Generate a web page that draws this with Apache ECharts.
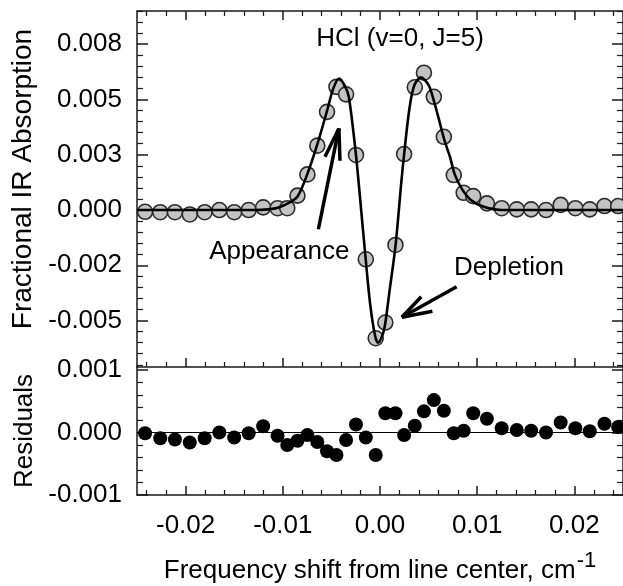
<!DOCTYPE html>
<html>
<head>
<meta charset="utf-8">
<script src="https://cdn.jsdelivr.net/npm/echarts@6/dist/echarts.min.js"></script>
<style>html,body{margin:0;padding:0;background:#fff;}#c{width:623px;height:586px;}</style>
</head>
<body>
<div id="c"></div>
<script>
// ---- data ----
const freq = [-0.02417, -0.02261, -0.02110, -0.01957, -0.01804, -0.01653, -0.01500, -0.01351, -0.01202, -0.01054,
  -0.00954, -0.00849, -0.00747, -0.00645, -0.00545, -0.00448, -0.00349, -0.00247, -0.00146, -0.00044,
  0.00055, 0.00159, 0.00248, 0.00358, 0.00452, 0.00554, 0.00657, 0.00759, 0.00861, 0.00959,
  0.01100, 0.01252, 0.01407, 0.01555, 0.01708, 0.01859, 0.02010, 0.02158, 0.02309, 0.02450];
const absorption = [-0.00008, -0.0001, -0.0001, -0.0002, -0.0001, 0.0, -0.0001, 0.0, 0.00012, 0.00008,
  0.00008, 0.00065, 0.00161, 0.00291, 0.00444, 0.00557, 0.00523, 0.00249, -0.00223, -0.0058,
  -0.00509, -0.00158, 0.00253, 0.00555, 0.00621, 0.00512, 0.00331, 0.00158, 0.00078, 0.00063,
  0.0003, 0.00008, 0.00003, 0.00003, 0.0, 0.00023, 0.00008, 0.00003, 0.00018, 0.00018];
const residuals = [-0.00001, -0.00009, -0.00011, -0.00016, -0.00009, 0.0, -0.00008, -0.00001, 0.0001, -0.00005,
  -0.0002, -0.00013, -0.00004, -0.00015, -0.0003, -0.00036, -0.00012, 0.00013, -0.00008, -0.00036,
  0.00031, 0.00031, -0.00004, 0.00011, 0.00034, 0.00052, 0.00035, -0.00001, 0.00003, 0.00031,
  0.00022, 0.00007, 0.00004, 0.00003, 0.0, 0.00016, 0.00007, 0.00002, 0.00014, 0.00009];
const fitFreq = [-0.025, -0.013, -0.0115, -0.0105, -0.0095, -0.0085, -0.0075, -0.0065, -0.0055, -0.0048,
  -0.0042, -0.0036, -0.0032, -0.0025, -0.002, -0.0015, -0.001, -0.0005, -0.0002, 0.0003,
  0.00055, 0.001, 0.0016, 0.0022, 0.0025, 0.003, 0.0035, 0.0042, 0.005, 0.0055,
  0.006, 0.0066, 0.0072, 0.0077, 0.0085, 0.0095, 0.011, 0.0125, 0.025];
const fitAbs = [0, 0, 0.00003, 0.0001, 0.0003, 0.0006, 0.0016, 0.0029, 0.0044, 0.0055,
  0.00595, 0.0056, 0.0051, 0.0026, 0.0003, -0.0021, -0.0043, -0.0057, -0.006, -0.0056,
  -0.0051, -0.0036, -0.0016, 0.0013, 0.0026, 0.0045, 0.0056, 0.006, 0.00565, 0.005,
  0.0042, 0.0032, 0.0024, 0.0016, 0.0009, 0.0004, 0.0001, 0, 0];

const xTickValues = [-0.02, -0.01, 0, 0.01, 0.02];
const xTickLabels = ['-0.02', '-0.01', '0.00', '0.01', '0.02'];
const upperTickValues = [-0.005, -0.0025, 0, 0.0025, 0.005, 0.0075];
const upperTickLabels = ['-0.005', '-0.002', '0.000', '0.003', '0.005', '0.008'];
const lowerTickValues = [-0.001, 0, 0.001];
const lowerTickLabels = ['-0.001', '0.000', '0.001'];

const titleText = 'HCl (v=0, J=5)';
const upperName = 'Fractional IR Absorption';
const lowerName = 'Residuals';
const xName = 'Frequency shift from line center, cm';
const xNameSup = '-1';

// ---- helpers ----
const FONT = 'Liberation Sans, Arial, Helvetica, sans-serif';
const AX = '#1a1a1a';
function minorValues(lo, hi, step, majors) {
  const out = [];
  const n = Math.round((hi - lo) / step);
  for (let i = 0; i <= n; i++) {
    const v = +(lo + i * step).toFixed(6);
    if (!majors.some(m => Math.abs(m - v) < 1e-9)) out.push(v);
  }
  return out;
}
function lookup(vals, labels) {
  return function (v) {
    for (let i = 0; i < vals.length; i++) if (Math.abs(vals[i] - v) < 1e-9) return labels[i];
    return '';
  };
}
function axis(base, o) {
  return Object.assign({
    type: 'value', splitLine: { show: false },
    axisLine: { show: false, onZero: false, lineStyle: { color: AX, width: 1.5 } },
    axisLabel: { show: false },
    axisTick: { show: true, inside: true, length: 9, lineStyle: { color: AX, width: 1.5 } }
  }, base, o);
}
const X_RANGE = { min: -0.025, max: 0.025 };
const UY_RANGE = { min: -0.0071, max: 0.009 };
const LY_RANGE = { min: -0.001, max: 0.00105 };
const xMinor = minorValues(-0.024, 0.024, 0.002, xTickValues);
const uyMinor = minorValues(-0.007, 0.009, 0.0005, upperTickValues);
const lyMinor = minorValues(-0.001, 0.001, 0.0002, lowerTickValues);

function majorTick(vals, len) { return { show: true, inside: true, length: len, customValues: vals, lineStyle: { color: AX, width: 1.5 } }; }
function minorTick(vals, len) { return { show: true, inside: true, length: len, customValues: vals, lineStyle: { color: AX, width: 1.2 } }; }

const xAxes = [
  // upper grid
  axis(X_RANGE, { gridIndex: 0, position: 'bottom', axisLine: { show: true, onZero: false, lineStyle: { color: AX, width: 1.5 } }, axisTick: majorTick(xTickValues, 9) }),
  axis(X_RANGE, { gridIndex: 0, position: 'bottom', axisTick: minorTick(xMinor, 5) }),
  axis(X_RANGE, { gridIndex: 0, position: 'top', axisLine: { show: true, onZero: false, lineStyle: { color: AX, width: 1.5 } }, axisTick: majorTick(xTickValues, 9) }),
  axis(X_RANGE, { gridIndex: 0, position: 'top', axisTick: minorTick(xMinor, 5) }),
  // lower grid
  axis(X_RANGE, { gridIndex: 1, position: 'bottom',
    axisLine: { show: true, onZero: false, lineStyle: { color: AX, width: 1.5 } },
    axisTick: majorTick(xTickValues, 9),
    axisLabel: { show: true, customValues: xTickValues, formatter: lookup(xTickValues, xTickLabels), margin: 18, fontSize: 26, fontFamily: FONT, color: '#000' },
    name: '{m|' + xName + '}{s|' + xNameSup + '}', nameLocation: 'middle', nameGap: 55,
    nameTextStyle: { fontFamily: FONT, color: '#000', rich: {
      m: { fontSize: 26, fontFamily: FONT, color: '#000' },
      s: { fontSize: 22, fontFamily: FONT, color: '#000', padding: [0, 0, 20, 1] } } } }),
  axis(X_RANGE, { gridIndex: 1, position: 'bottom', axisTick: minorTick(xMinor, 5) })
];
const yAxes = [
  // upper grid
  axis(UY_RANGE, { gridIndex: 0, position: 'left',
    axisLine: { show: true, onZero: false, lineStyle: { color: AX, width: 1.5 } },
    axisTick: majorTick(upperTickValues, 11),
    axisLabel: { show: true, customValues: upperTickValues, formatter: lookup(upperTickValues, upperTickLabels), margin: 15, fontSize: 26, fontFamily: FONT, color: '#000' },
    name: upperName, nameLocation: 'middle', nameGap: 96, nameRotate: 90,
    nameTextStyle: { fontSize: 28, fontFamily: FONT, color: '#000', padding: [0, 0, 0, 20] } }),
  axis(UY_RANGE, { gridIndex: 0, position: 'left', axisTick: minorTick(uyMinor, 6) }),
  axis(UY_RANGE, { gridIndex: 0, position: 'right', axisLine: { show: true, onZero: false, lineStyle: { color: AX, width: 1.5 } }, axisTick: majorTick(upperTickValues, 11) }),
  axis(UY_RANGE, { gridIndex: 0, position: 'right', axisTick: minorTick(uyMinor, 6) }),
  // lower grid
  axis(LY_RANGE, { gridIndex: 1, position: 'left',
    axisLine: { show: true, onZero: false, lineStyle: { color: AX, width: 1.5 } },
    axisTick: majorTick(lowerTickValues, 11),
    axisLabel: { show: true, customValues: lowerTickValues, formatter: lookup(lowerTickValues, lowerTickLabels), margin: 15, fontSize: 26, fontFamily: FONT, color: '#000' },
    name: lowerName, nameLocation: 'middle', nameGap: 97, nameRotate: 90,
    nameTextStyle: { fontSize: 26, fontFamily: FONT, color: '#000' } }),
  axis(LY_RANGE, { gridIndex: 1, position: 'left', axisTick: minorTick(lyMinor, 6) }),
  axis(LY_RANGE, { gridIndex: 1, position: 'right', axisLine: { show: true, onZero: false, lineStyle: { color: AX, width: 1.5 } }, axisTick: majorTick(lowerTickValues, 11) }),
  axis(LY_RANGE, { gridIndex: 1, position: 'right', axisTick: minorTick(lyMinor, 6) })
];

// annotation arrows (data coordinates): shaft + two head strokes
const arrowSegs = [
  [[-0.00634, -0.00087], [-0.00423, 0.00369]],
  [[-0.00423, 0.00369], [-0.00566, 0.00241]],
  [[-0.00423, 0.00369], [-0.00412, 0.00223]],
  [[0.00788, -0.00347], [0.00225, -0.00485]],
  [[0.00225, -0.00485], [0.00424, -0.00392]],
  [[0.00225, -0.00485], [0.00539, -0.00458]]
];
const notes = [
  { text: titleText, at: [0.00207, 0.00773] },
  { text: 'Appearance', at: [-0.01036, -0.00188] },
  { text: 'Depletion', at: [0.01327, -0.00262] }
];

const chart = echarts.init(document.getElementById('c'), null, { renderer: 'canvas' });
chart.setOption({
  backgroundColor: '#fff',
  animation: false,
  textStyle: { fontFamily: FONT },
  grid: [
    { left: 137, right: -3, top: 11, height: 356 },
    { left: 137, right: -3, top: 367, height: 128 }
  ],
  xAxis: xAxes,
  yAxis: yAxes,
  series: [
    {
      type: 'scatter', xAxisIndex: 0, yAxisIndex: 0, z: 2,
      data: freq.map((f, i) => [f, absorption[i]]),
      symbolSize: 15,
      itemStyle: { color: '#c3c3c3', borderColor: '#2b2b2b', borderWidth: 1.6, opacity: 1 }
    },
    {
      type: 'line', xAxisIndex: 0, yAxisIndex: 0, z: 3,
      data: fitFreq.map((f, i) => [f, fitAbs[i]]),
      smooth: 0.3, showSymbol: false, symbol: 'none',
      lineStyle: { color: '#000', width: 2.6 },
      markLine: {
        silent: true, symbol: ['none', 'none'], animation: false,
        lineStyle: { color: '#000', width: 3.5, type: 'solid' },
        label: { show: false },
        data: arrowSegs.map(s => [{ coord: s[0] }, { coord: s[1] }])
      },
      markPoint: {
        silent: true, symbol: 'circle', symbolSize: 1, itemStyle: { color: 'rgba(0,0,0,0)' },
        label: { show: true, position: 'inside', fontSize: 26, fontFamily: FONT, color: '#000', formatter: p => p.name },
        data: notes.map(n => ({ name: n.text, coord: n.at }))
      }
    },
    {
      type: 'scatter', xAxisIndex: 4, yAxisIndex: 4, z: 3,
      data: freq.map((f, i) => [f, residuals[i]]),
      symbolSize: 14,
      itemStyle: { color: '#000', opacity: 1 },
      markLine: {
        silent: true, symbol: ['none', 'none'], animation: false, z: 1,
        lineStyle: { color: '#000', width: 1, type: 'solid' },
        label: { show: false },
        data: [{ yAxis: 0 }]
      }
    }
  ]
});
</script>
</body>
</html>
